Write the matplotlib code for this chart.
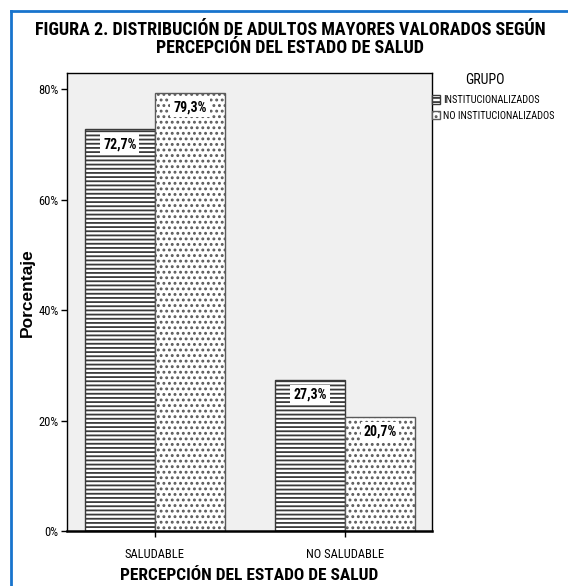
import numpy as np
import matplotlib.pyplot as plt
from matplotlib import font_manager
from matplotlib.patches import Patch
from matplotlib.lines import Line2D

categorias = ['SALUDABLE', 'NO SALUDABLE']
grupos = ['INSTITUCIONALIZADOS', 'NO INSTITUCIONALIZADOS']
institucionalizados = [72.7, 27.3]
no_institucionalizados = [79.3, 20.7]
yticks = [0, 20, 40, 60, 80]

# buscar una fuente estrecha (tipo Arial Narrow)
nombres = sorted({f.name for f in font_manager.fontManager.ttflist})
candidatas = ['Liberation Sans Narrow', 'Roboto Condensed', 'Noto Sans Condensed',
              'Open Sans Condensed', 'DejaVu Sans Condensed', 'Noto Sans Display Condensed']
narrow = next((c for c in candidatas if c in nombres), 'Liberation Sans')
plt.rcParams['font.family'] = [narrow, 'DejaVu Sans']
plt.rcParams['hatch.linewidth'] = 1.3

fig = plt.figure(figsize=(5.68, 5.86), dpi=100)
W, H = 568, 586
ax = fig.add_axes([67 / W, 1 - 531 / H, (432 - 67) / W, (531 - 73) / H])
ax.set_facecolor('#F0F0F0')

x = np.arange(len(categorias))
w = 70 / 190
b1 = ax.bar(x - w / 2, institucionalizados, w, color='white', edgecolor='#3a3a3a',
            hatch='----', linewidth=1.0)
b2 = ax.bar(x + w / 2, no_institucionalizados, w, color='white', edgecolor='#5a5a5a',
            hatch='...', linewidth=1.0)
for bars, vals in [(b1, institucionalizados), (b2, no_institucionalizados)]:
    for r, v in zip(bars, vals):
        ax.text(r.get_x() + r.get_width() / 2, v - 1.4, f'{v:.1f}%'.replace('.', ','),
                ha='center', va='top', fontsize=10, fontweight='bold',
                bbox=dict(boxstyle='square,pad=0.2', fc='white', ec='none'))

ax.set_xlim(-0.463, 1.458)
ax.set_ylim(0, 82.9)
ax.set_xticks(x)
ax.set_xticklabels(categorias, fontsize=9)
ax.set_yticks(yticks)
ax.set_yticklabels([f'{t}%' for t in yticks], fontsize=9)
ax.tick_params(length=4, width=1, color='black', pad=2)
ax.tick_params(axis='x', pad=8)
for s in ax.spines.values():
    s.set_linewidth(1)
ax.spines['bottom'].set_linewidth(1.8)

ax.set_ylabel('Porcentaje', fontsize=12.5, fontweight='bold', family='Liberation Sans')
ax.yaxis.set_label_coords((35 - 67) / (432 - 67), 0.52)
ax.set_xlabel('PERCEPCIÓN DEL ESTADO DE SALUD', fontsize=12.5, fontweight='bold')
ax.xaxis.set_label_coords(0.5, -(576 - 531) / (531 - 73))
ax.xaxis.label.set_va('center')

fig.text(290 / W, 1 - 39 / H, 'FIGURA 2. DISTRIBUCIÓN DE ADULTOS MAYORES VALORADOS SEGÚN\nPERCEPCIÓN DEL ESTADO DE SALUD',
         ha='center', va='center', fontsize=13, fontweight='bold', linespacing=1.0)

handles = [Patch(facecolor='white', edgecolor='#3a3a3a', hatch='----'),
           Patch(facecolor='white', edgecolor='#5a5a5a', hatch='...')]
fig.text(485 / W, 1 - 80 / H, 'GRUPO', ha='center', va='center', fontsize=10)
fig.legend(handles, grupos, loc='upper left', bbox_to_anchor=(432 / W, 1 - 95 / H),
           frameon=False, fontsize=7.5, handlelength=0.8, handleheight=0.9,
           handletextpad=0.3, labelspacing=0.55, borderaxespad=0, borderpad=0)

fig.add_artist(Line2D([11 / W, 1], [1 - 11 / H, 1 - 11 / H], color='#1874CD', lw=2))
fig.add_artist(Line2D([11 / W, 11 / W], [0, 1 - 11 / H], color='#1874CD', lw=2))

fig.savefig('out.png', dpi=100)
